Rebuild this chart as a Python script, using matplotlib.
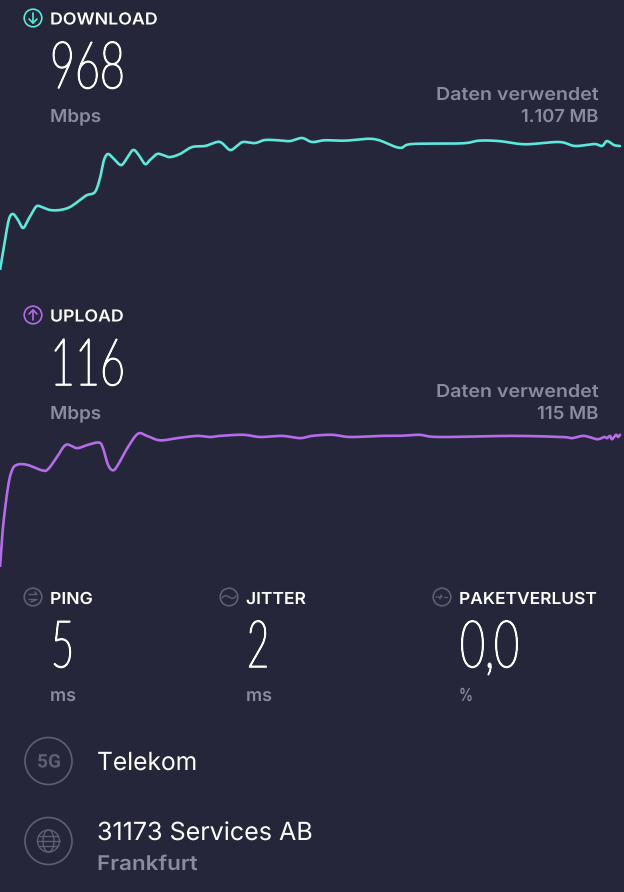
'''
plot.py
Speedtest result screen: download and upload curves with the figures around them.
'''

import numpy as np
import matplotlib
matplotlib.use('Agg')
import matplotlib.pyplot as plt
from matplotlib.patches import Circle, Ellipse
from matplotlib.patheffects import AbstractPathEffect
from matplotlib.transforms import Affine2D

W, H = 624, 892
BG = '#252639'
CYAN = '#5DE8DA'
PURPLE = '#B46CE9'
GREY = '#8B8BA0'
ICON = '#5E5F73'
WHITE = '#FFFFFF'

LABEL_FONT = ['Inter', 'DejaVu Sans']
BIG_FONT = ['Lato', 'DejaVu Sans']

# Curves (position along the test, Mbps)
download_x = [0, 5, 9, 13, 18, 23, 28, 33, 37, 42, 50, 60, 70, 80, 87, 95, 100, 104, 108, 113,
              121, 127, 133, 138, 145, 150, 157, 163, 170, 180, 192, 205, 217, 222, 230, 237,
              243, 255, 265, 280, 290, 302, 312, 325, 345, 374, 399, 412, 462, 479, 499, 525,
              559, 575, 594, 602, 607, 614, 620]
download_mbps = [0, 225, 382, 420, 375, 315, 375, 442, 480, 472, 450, 450, 472, 525, 562, 585, 690,
                 825, 870, 840, 787, 840, 900, 870, 795, 825, 870, 862, 847, 870, 922, 930, 960,
                 952, 900, 930, 960, 952, 975, 972, 967, 990, 960, 973, 970, 982, 917, 945, 950,
                 970, 967, 943, 960, 930, 945, 930, 967, 937, 930]
upload_x = [0, 3, 8, 12, 17, 27, 42, 48, 57, 66, 77, 88, 99, 103, 108, 113, 118, 128, 138, 147,
            160, 177, 197, 210, 220, 243, 260, 282, 300, 312, 332, 350, 379, 399, 419, 439, 512,
            562, 572, 584, 597, 604, 607, 610, 612, 616, 618, 620]
upload_mbps = [0, 36, 72, 87, 92, 92, 87, 88, 99, 110, 107, 110, 112, 107, 92, 87, 92, 108, 120,
               118, 114, 116, 118, 117, 118, 119, 117, 118, 116, 118, 119, 117, 118, 118, 119,
               117, 118, 117, 116, 118, 115, 117, 116, 118, 115, 119, 117, 119]

headline_labels = ['DOWNLOAD', 'UPLOAD']
headline_widths = [108, 74]
headline_values = ['968', '116']
data_used = ['1.107 MB', '115 MB']
data_widths = [77, 61]
small_labels = ['PING', 'JITTER', 'PAKETVERLUST']
small_widths = [43, 60, 138]
small_values = ['5', '2', '0,0']
value_widths = [23, 22, 59]
small_units = ['ms', 'ms', '%']
unit_widths = [26, 26, 14]


class Squeeze(AbstractPathEffect):
    # the app fonts are not installed, so fit each real text to its width in the picture
    def __init__(self, x0, sx, bold=0):
        super().__init__()
        self.x0 = x0
        self.sx = sx
        self.bold = bold

    def draw_path(self, renderer, gc, tpath, affine, rgbFace=None):
        extra = Affine2D().translate(-self.x0, 0).scale(self.sx, 1).translate(self.x0, 0)
        gc0 = renderer.new_gc()
        gc0.copy_properties(gc)
        if self.bold:
            # only a hairline cut of the digits is found, thicken it up
            gc0.set_linewidth(self.bold)
            gc0.set_foreground(rgbFace)
        renderer.draw_path(gc0, tpath, affine + extra, rgbFace)
        gc0.restore()


def smooth(x, y, steps=12):
    # Catmull-Rom through the read points, the app draws a rounded line too
    x = np.asarray(x, float)
    y = np.asarray(y, float)
    px = np.r_[x[0], x, x[-1]]
    py = np.r_[y[0], y, y[-1]]
    out_x, out_y = [], []
    t = np.linspace(0, 1, steps, endpoint=False)
    for i in range(1, len(px) - 2):
        for p, out in ((px, out_x), (py, out_y)):
            a, b, c, d = p[i - 1], p[i], p[i + 1], p[i + 2]
            out.extend(.5 * (2 * b + (c - a) * t + (2 * a - 5 * b + 4 * c - d) * t ** 2
                             + (3 * b - a - 3 * c + d) * t ** 3))
    out_x.append(x[-1])
    out_y.append(y[-1])
    return out_x, out_y


fig = plt.figure(figsize=(W / 100, H / 100), dpi=100, facecolor=BG)
renderer = fig.canvas.get_renderer()

# Overlay in pixels for the text and the icons
ui = fig.add_axes([0, 0, 1, 1])
ui.set_xlim(0, W)
ui.set_ylim(H, 0)
ui.axis('off')


def chart_axes(top, bottom, ymax):
    ax = fig.add_axes([0, 1 - bottom / H, 1, (bottom - top) / H])
    ax.set_xlim(0, W)
    ax.set_ylim(0, ymax)
    ax.axis('off')
    ax.patch.set_alpha(0)
    return ax


ax_down = chart_axes(130, 270, 1050)
ax_down.plot(*smooth(download_x, download_mbps), color=CYAN, lw=1.9, solid_capstyle='round')
ax_up = chart_axes(427, 567, 126)
ax_up.plot(*smooth(upload_x, upload_mbps), color=PURPLE, lw=1.9, solid_capstyle='round')


def label(x, y, s, width, size=11.9, color=WHITE, ha='left', weight='semibold',
          family=LABEL_FONT, bold=0):
    txt = ui.text(x, y, s, fontsize=size, color=color, ha=ha, va='baseline',
                  fontweight=weight, family=family)
    drawn = txt.get_window_extent(renderer).width
    txt.set_path_effects([Squeeze(x, width / drawn, bold)])
    return txt


def icon_ring(x, y, r, color, lw=1.2):
    ui.add_patch(Circle((x, y), r, fill=False, ec=color, lw=lw))


def stroke(xs, ys, color, lw=1.2):
    ui.plot(xs, ys, color=color, lw=lw, solid_capstyle='round')


# Download and upload blocks
for i, top in enumerate([0, 297]):
    color = [CYAN, PURPLE][i]
    label(50, top + 24.5, headline_labels[i], headline_widths[i])
    label(50, top + 88, headline_values[i], 75, size=47, weight='light', family=BIG_FONT, bold=1.1)
    label(50, top + 122, 'Mbps', 51, size=12.9, color=GREY)
    label(598, top + 100, 'Daten verwendet', 162, size=12.9, color=GREY, ha='right')
    label(598, top + 122, data_used[i], data_widths[i], size=12.9, color=GREY, ha='right')
    icon_ring(33, top + 18, 8.8, color)
    sign = 1 if i == 0 else -1
    cy = top + 18
    stroke([33, 33], [cy - 5 * sign, cy + 5 * sign], color)
    stroke([29, 33, 37], [cy + 1 * sign, cy + 5 * sign, cy + 1 * sign], color)

# Ping, jitter, packet loss
for i, x in enumerate([50, 246, 459]):
    label(x, 604, small_labels[i], small_widths[i])
    label(x + 1, 667, small_values[i], value_widths[i], size=47, weight='light', family=BIG_FONT,
          bold=1.1)
    label(x, 701, small_units[i], unit_widths[i], size=12.9, color=GREY)
    icon_ring(x - 17, 597, 8.8, ICON)

stroke([29, 37, 35], [594.5, 594.5, 592], ICON, lw=1)
stroke([29, 37, 31], [599.5, 599.5, 602], ICON, lw=1)
wave_x = [222, 224, 226, 228, 230, 232, 234, 236]
wave_y = [598, 596, 595.5, 596.5, 597.5, 598.5, 598, 596]
stroke(wave_x, wave_y, ICON, lw=1)
stroke([436, 439, 440, 441, 442], [597, 597, 599, 595, 597], ICON, lw=.9)
stroke([444, 447], [597, 597], ICON, lw=.9)

# Carrier and server rows
icon_ring(48.5, 761, 23.5, ICON)
label(37, 767.5, '5G', 24, size=13.5, color=ICON, weight='bold', family=['Roboto', 'DejaVu Sans'])
label(97, 770, 'Telekom', 100, size=18, weight='normal')

icon_ring(48.5, 841, 23.5, ICON)
icon_ring(48.5, 841, 11, ICON, lw=1)
ui.add_patch(Ellipse((48.5, 841), 11, 22, fill=False, ec=ICON, lw=1))
stroke([37.5, 59.5], [841, 841], ICON, lw=1)
stroke([39, 58], [836, 836], ICON, lw=1)
stroke([39, 58], [846, 846], ICON, lw=1)
label(97, 840, '31173 Services AB', 216, size=18, weight='normal')
label(97, 870, 'Frankfurt', 101, size=14.6, color=GREY)

fig.savefig('out.png', dpi=100, facecolor=BG)
